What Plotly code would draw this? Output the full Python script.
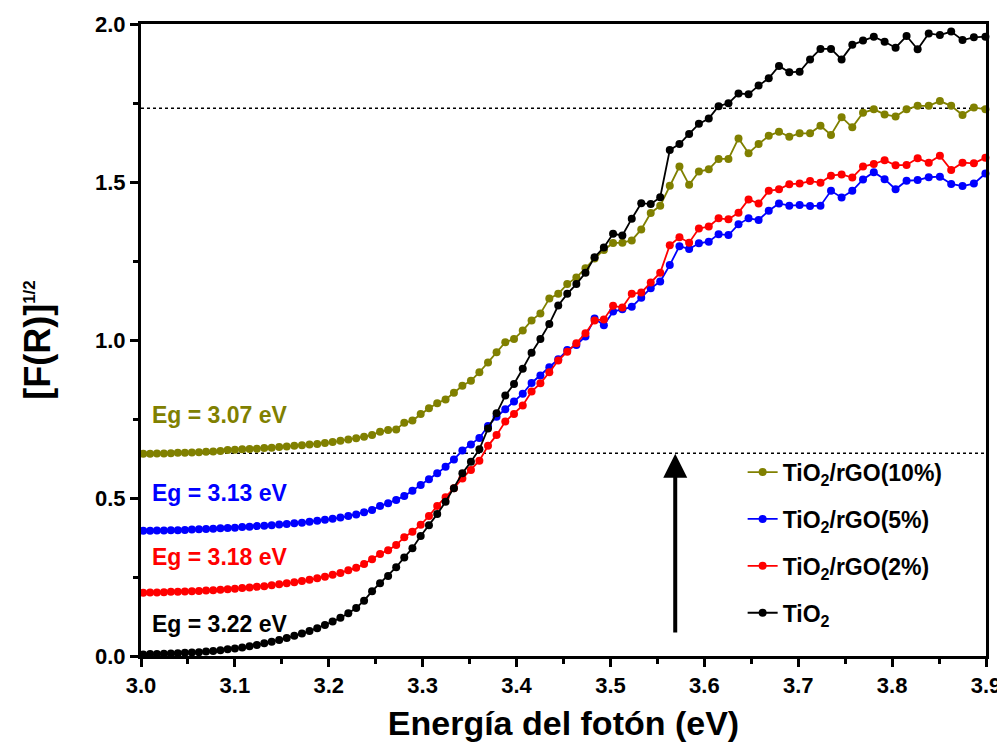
import plotly.graph_objects as go

# photon energy (eV), one point per nm from 413 nm down to 318 nm
energy = [
    3.0024, 3.0097, 3.0170, 3.0244, 3.0318, 3.0392, 3.0467, 3.0542, 3.0617, 3.0693,
    3.0769, 3.0846, 3.0923, 3.1000, 3.1078, 3.1156, 3.1234, 3.1313, 3.1392, 3.1472,
    3.1552, 3.1633, 3.1714, 3.1795, 3.1877, 3.1959, 3.2041, 3.2124, 3.2208, 3.2292,
    3.2376, 3.2461, 3.2546, 3.2632, 3.2718, 3.2804, 3.2891, 3.2979, 3.3067, 3.3155,
    3.3244, 3.3333, 3.3423, 3.3514, 3.3604, 3.3696, 3.3787, 3.3880, 3.3973, 3.4066,
    3.4160, 3.4254, 3.4349, 3.4444, 3.4540, 3.4637, 3.4734, 3.4831, 3.4930, 3.5028,
    3.5127, 3.5227, 3.5328, 3.5429, 3.5530, 3.5632, 3.5735, 3.5838, 3.5942, 3.6047,
    3.6152, 3.6257, 3.6364, 3.6471, 3.6578, 3.6686, 3.6795, 3.6905, 3.7015, 3.7126,
    3.7237, 3.7349, 3.7462, 3.7576, 3.7690, 3.7805, 3.7920, 3.8037, 3.8154, 3.8272,
    3.8390, 3.8509, 3.8629, 3.8750, 3.8871, 3.8994,
]

tio2 = [
    0.005, 0.006, 0.006, 0.007, 0.008, 0.009, 0.010, 0.011, 0.012, 0.014,
    0.016, 0.018, 0.021, 0.024, 0.027, 0.031, 0.035, 0.040, 0.045, 0.051,
    0.057, 0.064, 0.071, 0.079, 0.088, 0.098, 0.109, 0.121, 0.135, 0.152,
    0.175, 0.205, 0.230, 0.253, 0.281, 0.312, 0.341, 0.380, 0.414, 0.449,
    0.488, 0.531, 0.578, 0.615, 0.654, 0.720, 0.768, 0.824, 0.861, 0.909,
    0.960, 1.003, 1.051, 1.109, 1.146, 1.177, 1.213, 1.262, 1.293, 1.336,
    1.331, 1.384, 1.433, 1.430, 1.452, 1.601, 1.620, 1.652, 1.684, 1.701,
    1.740, 1.749, 1.780, 1.778, 1.805, 1.828, 1.867, 1.847, 1.849, 1.888,
    1.921, 1.921, 1.888, 1.934, 1.948, 1.960, 1.944, 1.925, 1.962, 1.920,
    1.970, 1.965, 1.976, 1.949, 1.958, 1.960,
]

rgo_2 = [
    0.200, 0.201, 0.201, 0.202, 0.203, 0.203, 0.204, 0.205, 0.206, 0.207,
    0.208, 0.210, 0.211, 0.213, 0.215, 0.217, 0.219, 0.221, 0.224, 0.227,
    0.230, 0.233, 0.237, 0.241, 0.246, 0.251, 0.257, 0.263, 0.271, 0.279,
    0.291, 0.306, 0.323, 0.335, 0.351, 0.376, 0.393, 0.415, 0.443, 0.475,
    0.502, 0.531, 0.562, 0.589, 0.618, 0.665, 0.699, 0.742, 0.766, 0.793,
    0.837, 0.863, 0.898, 0.935, 0.963, 0.990, 1.021, 1.062, 1.065, 1.108,
    1.103, 1.146, 1.150, 1.182, 1.213, 1.300, 1.325, 1.308, 1.353, 1.359,
    1.385, 1.382, 1.403, 1.445, 1.432, 1.472, 1.477, 1.493, 1.495, 1.503,
    1.498, 1.520, 1.524, 1.514, 1.549, 1.557, 1.569, 1.553, 1.554, 1.575,
    1.561, 1.583, 1.538, 1.561, 1.559, 1.577,
]

rgo_5 = [
    0.396, 0.396, 0.397, 0.397, 0.398, 0.398, 0.399, 0.400, 0.401, 0.402,
    0.403, 0.404, 0.405, 0.406, 0.408, 0.409, 0.411, 0.412, 0.414, 0.416,
    0.418, 0.420, 0.422, 0.425, 0.428, 0.431, 0.434, 0.438, 0.443, 0.448,
    0.455, 0.462, 0.475, 0.483, 0.494, 0.506, 0.523, 0.541, 0.559, 0.578,
    0.599, 0.622, 0.650, 0.669, 0.690, 0.728, 0.757, 0.781, 0.805, 0.830,
    0.864, 0.888, 0.914, 0.939, 0.968, 0.984, 1.011, 1.068, 1.047, 1.090,
    1.097, 1.105, 1.134, 1.164, 1.185, 1.237, 1.297, 1.288, 1.306, 1.311,
    1.335, 1.332, 1.366, 1.385, 1.380, 1.409, 1.432, 1.425, 1.427, 1.424,
    1.425, 1.472, 1.451, 1.472, 1.508, 1.531, 1.509, 1.477, 1.504, 1.506,
    1.515, 1.517, 1.494, 1.487, 1.495, 1.527,
]

rgo_10 = [
    0.640, 0.640, 0.641, 0.641, 0.642, 0.643, 0.643, 0.644, 0.645, 0.646,
    0.647, 0.649, 0.652, 0.653, 0.654, 0.655, 0.656, 0.658, 0.659, 0.661,
    0.663, 0.665, 0.667, 0.669, 0.671, 0.674, 0.677, 0.681, 0.685, 0.689,
    0.694, 0.699, 0.710, 0.715, 0.717, 0.738, 0.745, 0.766, 0.784, 0.800,
    0.812, 0.833, 0.855, 0.871, 0.898, 0.929, 0.961, 0.993, 1.003, 1.030,
    1.062, 1.084, 1.131, 1.146, 1.177, 1.198, 1.227, 1.258, 1.285, 1.307,
    1.308, 1.315, 1.350, 1.402, 1.425, 1.488, 1.549, 1.491, 1.533, 1.540,
    1.573, 1.573, 1.638, 1.591, 1.620, 1.646, 1.659, 1.643, 1.654, 1.654,
    1.678, 1.649, 1.705, 1.673, 1.719, 1.730, 1.714, 1.707, 1.730, 1.741,
    1.741, 1.756, 1.741, 1.712, 1.736, 1.730,
]

series_names = ["TiO<sub>2</sub>/rGO(10%)", "TiO<sub>2</sub>/rGO(5%)",
                "TiO<sub>2</sub>/rGO(2%)", "TiO<sub>2</sub>"]
series_values = [rgo_10, rgo_5, rgo_2, tio2]
series_colors = ["#808000", "#0000FF", "#FF0000", "#000000"]

gap_labels = ["Eg = 3.07 eV", "Eg = 3.13 eV", "Eg = 3.18 eV", "Eg = 3.22 eV"]
gap_label_y = [0.763, 0.516, 0.313, 0.101]

ref_levels = [1.733, 0.642]
arrow_x = 3.569
arrow_from, arrow_to = 0.07, 0.64

FONT = "Liberation Sans, Arial, sans-serif"

fig = go.Figure()
for name, vals, color in zip(series_names, series_values, series_colors):
    fig.add_trace(go.Scatter(
        x=energy, y=vals, name=name, mode="lines+markers",
        legendgroup=name,
        line=dict(color=color, width=1.8),
        marker=dict(color=color, size=8, line=dict(width=0)),
        cliponaxis=False,
    ))

for lvl in ref_levels:
    fig.add_shape(type="line", xref="paper", x0=0, x1=1, yref="y", y0=lvl, y1=lvl,
                  line=dict(color="black", width=1.5, dash="dot"), layer="below")

for text, y, color in zip(gap_labels, gap_label_y, series_colors):
    fig.add_annotation(x=3.01, y=y, text=text, showarrow=False,
                       xanchor="left", yanchor="middle",
                       font=dict(family=FONT, size=23, color=color, weight="bold"))

fig.add_annotation(x=arrow_x, y=arrow_to, ax=arrow_x, ay=arrow_from,
                   xref="x", yref="y", axref="x", ayref="y", text="",
                   showarrow=True, arrowhead=2, arrowwidth=4, arrowsize=1.2,
                   arrowcolor="black")

axis_common = dict(
    showline=True, linecolor="black", linewidth=3, mirror=True,
    ticks="outside", ticklen=8, tickwidth=3, tickcolor="black",
    showgrid=False, zeroline=False, layer="above traces", automargin=False,
    tickfont=dict(family=FONT, size=22, color="black", weight="bold"),
)

fig.update_xaxes(
    range=[3.0, 3.9], dtick=0.1, tick0=3.0, tickformat=".1f",
    minor=dict(dtick=0.05, ticks="outside", ticklen=5, tickwidth=3, tickcolor="black"),
    title=dict(text="Energía del fotón (eV)", standoff=14,
               font=dict(family=FONT, size=34, color="black", weight="bold")),
    **axis_common,
)
fig.update_yaxes(
    range=[0, 2.0], dtick=0.5, tick0=0, tickformat=".1f",
    minor=dict(dtick=0.25, ticks="outside", ticklen=5, tickwidth=3, tickcolor="black"),
    title=dict(text="[F(R)]<sup><span style='font-size:17px'>1/2</span></sup>",
               standoff=34,
               font=dict(family=FONT, size=36, color="black", weight="bold")),
    **axis_common,
)

# page body has an 8px margin, so the figure is shrunk to keep the plot area in place
fig.update_layout(
    width=997, height=734,
    paper_bgcolor="white", plot_bgcolor="white",
    margin=dict(l=133, r=19, t=16, b=86),
    font=dict(family=FONT, color="black"),
    legend=dict(x=0.712, y=0.325, xanchor="left", yanchor="top",
                bgcolor="rgba(0,0,0,0)",
                font=dict(family=FONT, size=23, weight="bold"),
                tracegroupgap=14),
)

fig.write_html("out.html")
